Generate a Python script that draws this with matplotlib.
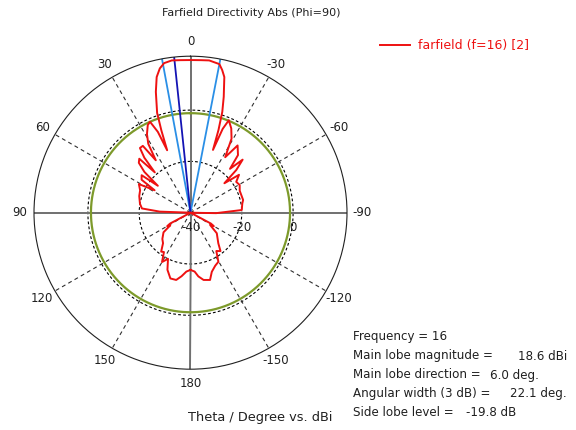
import numpy as np
import matplotlib
matplotlib.use('Agg')
import matplotlib.pyplot as plt

# pattern: theta in degrees (positive = counter-clockwise, left), directivity in dBi
theta_deg = [-180, -176, -173, -169, -163.8, -160.2, -155, -150.4, -146, -142,
             -137.7, -128, -122, -120, -118, -112, -95, -91, -87, -80,
             -76.4, -66, -60.6, -56, -52, -49, -47, -44.5, -42, -39.5,
             -35, -32, -29, -25.8, -22.5, -21, -19.7, -18.7, -17.5, -16,
             -14, -12.5, -11, -7, -4, 0, 4, 7, 10, 12,
             14, 16, 18.5, 19.5, 20.5, 22, 24, 26, 29, 31.5,
             33.5, 35.5, 38, 40, 41.5, 43.5, 46, 48.5, 50.5, 52.5,
             56, 58, 61, 66, 72, 80, 85, 88, 92, 112,
             118, 120, 122, 126, 133, 138, 143, 146, 150, 154,
             158, 163, 168, 172, 176, 180]
dbi = [-17.7, -17, -15, -13.3, -12.7, -15.5, -17.2, -18, -22, -21,
       -23.9, -27, -31, -29.5, -31, -40, -40, -30, -20, -19.5,
       -18.9, -19, -18, -18.5, -16, -22.5, -15.6, -11, -17, -10.9,
       -8, -14.5, -7, -3.5, -1.0, -5, -14, -6, 1.2, 7,
       14.5, 17, 19.0, 19.8, 19.6, 19.5, 19.6, 19.8, 19.2, 17.5,
       14.5, 9, 1, -6, -14, -6, -1.2, -2, -5, -8.5,
       -15.5, -8, -8, -12, -19, -11, -12, -16, -23.5, -16,
       -17, -23.5, -17, -18.5, -19, -20, -21, -28, -40, -40,
       -31, -29.5, -30.7, -27, -25, -24, -21, -21.5, -17.8, -20,
       -16, -13.2, -13.2, -15, -17, -17.7]

main_dir = 6.0
beam_edges = [10.5, -11.0]
sll_circle = -1.2
ring_values = [-20, 0]
ring_labels = ['-40', '-20', '0']
ring_label_r = [-40, -20, 0]
angle_ticks = [0, 30, 60, 90, 120, 150, 180, -150, -120, -90, -60, -30]
dashed_angles = [30, 60, 120, 150, -150, -120, -60, -30]

info_names = ['Frequency = 16', 'Main lobe magnitude =', 'Main lobe direction =',
              'Angular width (3 dB) =', 'Side lobe level =']
info_values = ['', '18.6 dBi', '6.0 deg.', '22.1 deg.', '-19.8 dB']

rmin, rmax = -40, 21

W, H = 576, 430
fig = plt.figure(figsize=(W / 100, H / 100), dpi=100)
cx, cy, R = 190.5, 212.7, 156.5
ax = fig.add_axes([(cx - R) / W, 1 - (cy + R) / H, 2 * R / W, 2 * R / H], projection='polar')
ax.set_theta_zero_location('N')
ax.set_theta_direction(1)
ax.set_rlim(rmin, rmax)
ax.grid(False)
ax.set_xticks([])
ax.set_yticks([])
ax.spines['polar'].set_color('#202020')
ax.spines['polar'].set_linewidth(0.8)

full = np.linspace(0, 2 * np.pi, 400)
for rv in ring_values:
    ax.plot(full, np.full_like(full, rv), color='black', lw=0.8, ls=(0, (2.5, 2)))
for a in dashed_angles:
    t = np.deg2rad(a)
    ax.plot([t, t], [rmin, rmax], color='#303030', lw=0.8, ls=(0, (3.5, 3)))
for a in [0, 90, 180, 270]:
    t = np.deg2rad(a)
    ax.plot([t, t], [rmin, rmax], color='#707070', lw=1.4)

ax.plot(full, np.full_like(full, sll_circle), color='#7d9a2b', lw=1.6)

for a in beam_edges:
    t = np.deg2rad(a)
    ax.plot([t, t], [rmin, rmax], color='#2a8fe6', lw=1.3)
t = np.deg2rad(main_dir)
ax.plot([t, t], [rmin, rmax], color='#1414b4', lw=1.3)

th = np.deg2rad(theta_deg)
ax.plot(th, dbi, color='#ee1111', lw=1.4, label='farfield (f=16) [2]')

for a in angle_ticks:
    ax.text(np.deg2rad(a), 26.7, str(a), ha='center', va='center', fontsize=8.5,
            color='#202020', clip_on=False)

for lab, rv in zip(ring_labels, ring_label_r):
    ax.annotate(lab, xy=(np.deg2rad(-90), rv), xytext=(0, -11), textcoords='offset points',
                ha='center', va='center', fontsize=8.5, color='#202020')

fig.text(251 / W, 1 - 13 / H, 'Farfield Directivity Abs (Phi=90)', ha='center', va='center',
         fontsize=8, color='#202020')
fig.text(188 / W, 1 - 418 / H, 'Theta / Degree vs. dBi', ha='left', va='center',
         fontsize=9.3, color='#202020')

ys = [336.7, 356, 375, 394, 413]
vx = [0, 567, 539, 567, 516]
for name, val, y, x in zip(info_names, info_values, ys, vx):
    fig.text(353 / W, 1 - y / H, name, ha='left', va='center', fontsize=8.6, color='#202020')
    if val:
        fig.text(x / W, 1 - y / H, val, ha='right', va='center', fontsize=8.6, color='#202020')

fig.legend(loc='center left', bbox_to_anchor=(380 / W, 1 - 46 / H), frameon=False,
           fontsize=9, handlelength=2.4, handletextpad=0.6, labelcolor='#ee1111',
           borderaxespad=0, borderpad=0)

fig.savefig('out.png', dpi=100)
